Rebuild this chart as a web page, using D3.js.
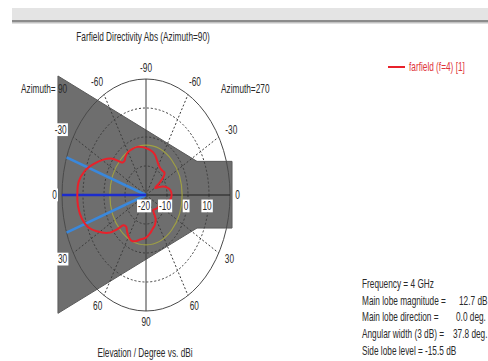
<!DOCTYPE html>
<html>
<head>
<meta charset="utf-8">
<script src="https://cdn.jsdelivr.net/npm/d3@7"></script>
<style>
  html, body { margin: 0; padding: 0; background: #fff; }
  svg { display: block; }
  text { font-family: "Liberation Sans", Arial, sans-serif; font-size: 12px; fill: #2a2a2a; }
</style>
</head>
<body>
<svg id="chart" width="488" height="361"></svg>
<script>
// Farfield directivity cut: polar angle (deg, 0 = main lobe side, running over the top) and level in dBi
const theta = [0, 8, 16, 23, 31, 38, 42, 45, 49, 54, 60, 68, 76, 84, 92, 100, 107, 113, 120, 128, 134, 139,
  143, 147, 151, 155, 160, 166, 172, 180, 188, 194, 200, 207, 215, 224, 231, 236, 241, 248, 255, 262, 270,
  280, 288, 294, 300, 306, 311, 316, 319, 324, 332, 338, 345, 353];
const directivity = [12.7, 12.4, 10.3, 7.2, 3.7, 0.3, -2.6, -4.2, -4.4, -3.5, -2.9, -2.8, -2.9, -3.4, -4.0, -4.6,
  -5.5, -6.8, -8.0, -8.6, -8.5, -8.3, -9.5, -12.5, -15.0, -13.8, -11.4, -9.5, -8.3, -7.8, -8.4, -10.0, -12.0,
  -13.0, -12.8, -13.2, -13.6, -13.8, -10.5, -8.8, -7.9, -6.6, -5.3, -4.4, -3.2, -2.8, -3.4, -4.6, -5.6, -5.0,
  -2.2, 2.2, 6.6, 9.7, 11.6, 12.6];

// Radial dB grid and angular grid
const dbTicks = [-20, -10, 0, 10];
const dbRange = [-20, 20];
const spokeAngles = [0, 30, 60, 90, 120, 150, 180, 210, 240, 270, 300, 330];
const angleLabels = ["0", "-30", "-60", "-90", "-60", "-30", "0", "30", "60", "90", "60", "30"];

// Summary figures
const frequencyGHz = 4;
const mainLobeMagnitude = 12.7;   // dB
const mainLobeDirection = 0.0;    // deg
const angularWidth = 37.8;        // deg, 3 dB
const sideLobeLevel = -15.5;      // dB

// Shaded region outline, in unit-circle plot coordinates
const shadeU = [-1.048, 0.607, 1.024, 1.024, 0.607, -1.048];
const shadeV = [-1.026, -0.29, -0.29, 0.285, 0.285, 1.02];

const svg = d3.select("#chart");
const cx = 146, cy = 195, rx = 84, ry = 116;
const X = d3.scaleLinear().domain([-1, 1]).range([cx - rx, cx + rx]);
const Y = d3.scaleLinear().domain([-1, 1]).range([cy - ry, cy + ry]);
const R = d3.scaleLinear().domain(dbRange).range([0, 1]).clamp(true);
const rad = d => d * Math.PI / 180;
const px = (t, r) => X(-Math.cos(rad(t)) * r);
const py = (t, r) => Y(-Math.sin(rad(t)) * r);
const SX = 0.69;

function label(g, str, x, y, anchor, opts = {}) {
  const grp = g.append("g").attr("transform", `translate(${x},${y})`);
  const t = grp.append("text")
    .attr("transform", `scale(${SX},1)`)
    .attr("text-anchor", anchor || "start")
    .text(str);
  if (opts.fill) t.style("fill", opts.fill);
  if (opts.box) {
    const b = grp.node().getBBox();
    grp.insert("rect", "text")
      .attr("x", b.x - 1).attr("y", b.y)
      .attr("width", b.width + 2).attr("height", b.height)
      .attr("fill", "#fff");
  }
  return grp;
}

// window header strip
svg.append("rect").attr("x", 12).attr("y", 8).attr("width", 476).attr("height", 12).attr("fill", "#e4e4e4");
svg.append("rect").attr("x", 12).attr("y", 20).attr("width", 476).attr("height", 2).attr("fill", "#8c8c8c");
svg.append("rect").attr("x", 12).attr("y", 22).attr("width", 476).attr("height", 1.5).attr("fill", "#c2c2c2");

// title
label(svg, "Farfield Directivity Abs (Azimuth=90)", 143, 41, "middle");

// shaded region
svg.append("path")
  .attr("d", d3.line().x((d, i) => X(shadeU[i])).y((d, i) => Y(shadeV[i])).curve(d3.curveLinearClosed)(shadeU))
  .attr("fill", "#6e6e6e").attr("stroke", "#5a5a5a").attr("stroke-width", 1);

const grid = svg.append("g");
// dotted dB rings
grid.selectAll("ellipse.ring").data(dbTicks.filter(d => d > dbRange[0])).join("ellipse")
  .attr("cx", cx).attr("cy", cy)
  .attr("rx", d => X(R(d)) - cx).attr("ry", d => Y(R(d)) - cy)
  .attr("fill", "none").attr("stroke", "#3c3c3c").attr("stroke-width", 1).attr("stroke-dasharray", "2,2");
// dotted spokes
grid.selectAll("line.spoke").data(spokeAngles.filter(a => a % 90 !== 0)).join("line")
  .attr("x1", cx).attr("y1", cy)
  .attr("x2", a => px(a, 1)).attr("y2", a => py(a, 1))
  .attr("stroke", "#3c3c3c").attr("stroke-width", 1).attr("stroke-dasharray", "2,2");
// outer ring and main axes
grid.append("ellipse").attr("cx", cx).attr("cy", cy).attr("rx", rx).attr("ry", ry)
  .attr("fill", "none").attr("stroke", "#4a4a4a").attr("stroke-width", 1);
grid.append("line").attr("x1", px(0, 1)).attr("y1", cy).attr("x2", px(180, 1)).attr("y2", cy)
  .attr("stroke", "#1e1e1e").attr("stroke-width", 1.2);
grid.append("line").attr("x1", cx).attr("y1", py(90, 1)).attr("x2", cx).attr("y2", py(270, 1))
  .attr("stroke", "#3a3a3a").attr("stroke-width", 1);

// side lobe level ring
const sideRing = R(mainLobeMagnitude + sideLobeLevel);
svg.append("ellipse").attr("cx", cx).attr("cy", cy)
  .attr("rx", X(sideRing) - cx).attr("ry", Y(sideRing) - cy)
  .attr("fill", "none").attr("stroke", "#a8a83c").attr("stroke-width", 1.2).attr("opacity", 0.85);

// main lobe direction and 3 dB beam edges
const half = angularWidth / 2;
svg.selectAll("line.beam").data([mainLobeDirection - half, mainLobeDirection + half]).join("line")
  .attr("x1", cx).attr("y1", cy).attr("x2", a => px(a, 1)).attr("y2", a => py(a, 1))
  .attr("stroke", "#3a88dc").attr("stroke-width", 2.6);
svg.append("line").attr("x1", cx).attr("y1", cy)
  .attr("x2", px(mainLobeDirection, 1)).attr("y2", py(mainLobeDirection, 1))
  .attr("stroke", "#1c2ccc").attr("stroke-width", 2.6);

// directivity pattern
const pattern = theta.map((t, i) => [px(t, R(directivity[i])), py(t, R(directivity[i]))]);
svg.append("path")
  .attr("d", d3.line().curve(d3.curveCatmullRomClosed.alpha(0.5))(pattern))
  .attr("fill", "none").attr("stroke", "#e8212b").attr("stroke-width", 2);

// dB labels along the horizontal axis
const lab = svg.append("g");
dbTicks.forEach(d => label(lab, String(d), X(R(d)) - 2, cy + 15, "middle", { box: true }));

// angle labels around the rim
spokeAngles.forEach((a, i) => {
  const s = angleLabels[i];
  const c = Math.cos(rad(a)), sn = Math.sin(rad(a));
  const hw = s.length * 2.5;
  const d = 5 + hw * Math.abs(c) + 6 * Math.abs(sn);
  const x = px(a, 1) - c * d;
  const y = py(a, 1) - sn * d + 4;
  label(lab, s, x, y, "middle", { box: true });
});

label(svg, "Azimuth= 90", 21, 93, "start");
label(svg, "Azimuth=270", 221, 93, "start");
label(svg, "Elevation / Degree vs. dBi", 145, 357, "middle");

// legend
svg.append("line").attr("x1", 388).attr("y1", 67).attr("x2", 405).attr("y2", 67)
  .attr("stroke", "#e8212b").attr("stroke-width", 2);
label(svg, "farfield (f=4) [1]", 409, 71, "start", { fill: "#e0343a" });

// summary block
const info = svg.append("g");
label(info, `Frequency = ${frequencyGHz} GHz`, 362, 288, "start");
label(info, "Main lobe magnitude =", 362, 305, "start");
label(info, `${mainLobeMagnitude.toFixed(1)} dB`, 459, 305, "start");
label(info, "Main lobe direction =", 362, 321, "start");
label(info, `${mainLobeDirection.toFixed(1)} deg.`, 456, 321, "start");
label(info, "Angular width (3 dB) =", 362, 338, "start");
label(info, `${angularWidth.toFixed(1)} deg.`, 453, 338, "start");
label(info, "Side lobe level =", 362, 355, "start");
label(info, `${sideLobeLevel.toFixed(1)} dB`, 425, 355, "start");
</script>
</body>
</html>
